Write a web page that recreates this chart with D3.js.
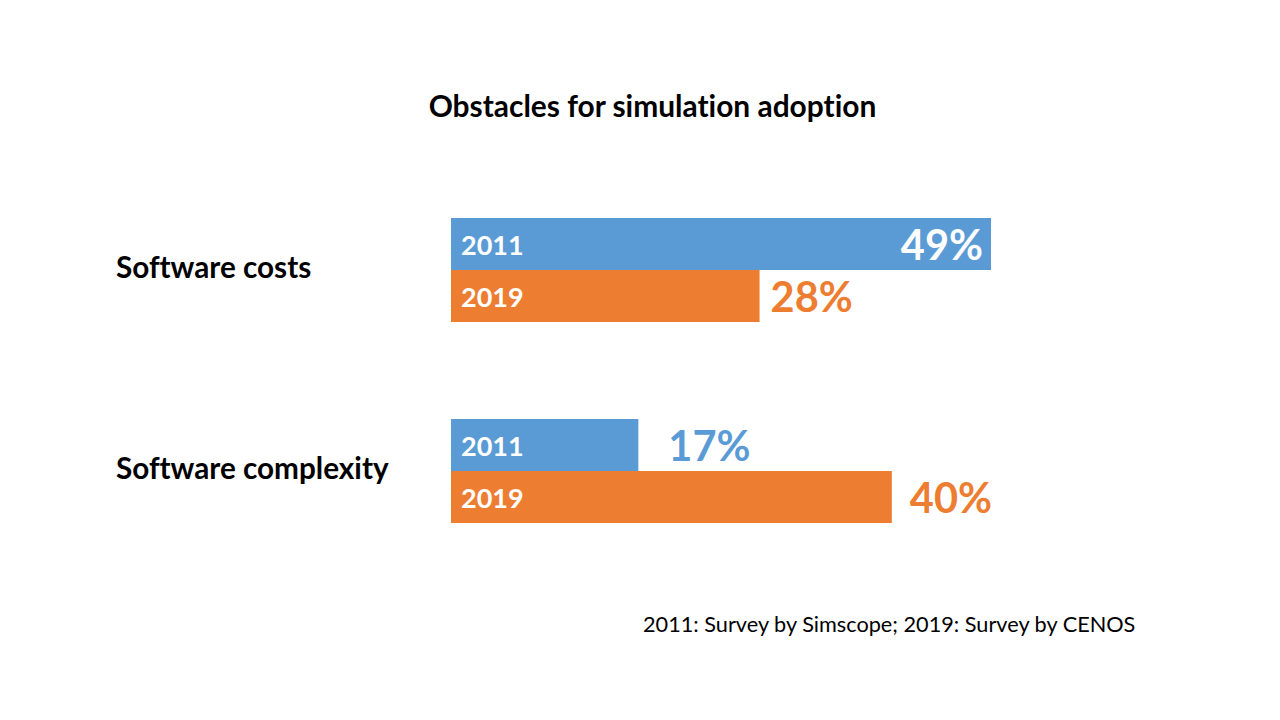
<!DOCTYPE html>
<html><head><meta charset="utf-8">
<script src="https://cdn.jsdelivr.net/npm/d3@7"></script>
<style>body{margin:0;background:#fff}svg{display:block}text{font-family:Lato,"Open Sans",sans-serif;font-variant-ligatures:none;font-feature-settings:"liga" 0,"dlig" 0}</style>
</head><body>
<svg id="c" width="1280" height="720"></svg>
<script>
const categories = ["Software costs", "Software complexity"];
const years = ["2011", "2019"];
const values2011 = [49, 17];
const values2019 = [28, 40];
const title = "Obstacles for simulation adoption";
const footnote = "2011: Survey by Simscope; 2019: Survey by CENOS";

const colors = {"2011": "#5B9BD5", "2019": "#ED7D31"};
const svg = d3.select("#c");

const x = d3.scaleLinear().domain([0, 49]).range([451, 991]);
// two groups of 104px separated by a 97px gap
const yGroup = d3.scaleBand().domain(categories).range([218, 523 + 97]).paddingInner(0).paddingOuter(0);
const ySub = d3.scaleBand().domain(years).range([0, 104]);

const data = [];
categories.forEach((c, i) => {
  data.push({cat: c, year: "2011", v: values2011[i]});
  data.push({cat: c, year: "2019", v: values2019[i]});
});

svg.append("text").attr("x", 652.5).attr("y", 117).attr("text-anchor", "middle")
  .attr("font-size", 29.9).attr("font-weight", "bold").attr("fill", "#000").text(title);

const g = svg.append("g");
g.selectAll("rect").data(data).join("rect")
  .attr("x", x(0))
  .attr("y", d => yGroup(d.cat) + ySub(d.year))
  .attr("width", d => x(d.v) - x(0))
  .attr("height", ySub.bandwidth())
  .attr("fill", d => colors[d.year]);

g.selectAll("text.yr").data(data).join("text").attr("class", "yr")
  .attr("x", x(0) + 10)
  .attr("y", d => yGroup(d.cat) + ySub(d.year) + 37)
  .attr("font-size", 27).attr("font-weight", "bold").attr("fill", "#fff")
  .text(d => d.year);

// value labels: inside if the bar is the longest, else outside
const maxV = d3.max(data, d => d.v);
const outsideGap = {"Software costs|2019": 11, "Software complexity|2011": 30, "Software complexity|2019": 18};
g.selectAll("text.val").data(data).join("text").attr("class", "val")
  .attr("x", d => d.v === maxV ? x(d.v) - 8 : x(d.v) + outsideGap[d.cat + "|" + d.year])
  .attr("text-anchor", d => d.v === maxV ? "end" : "start")
  .attr("y", d => yGroup(d.cat) + ySub(d.year) + 42)
  .attr("font-size", 41.5).attr("font-weight", "bold")
  .attr("fill", d => d.v === maxV ? "#fff" : colors[d.year])
  .text(d => d.v + "%");

svg.selectAll("text.cat").data(categories).join("text").attr("class", "cat")
  .attr("x", 116)
  .attr("y", d => yGroup(d) + 60)
  .attr("font-size", 29.7).attr("font-weight", "bold").attr("fill", "#000")
  .text(d => d);

svg.append("text").attr("x", 643).attr("y", 632)
  .attr("font-size", 21.7).attr("fill", "#000").text(footnote);
</script>
</body></html>
